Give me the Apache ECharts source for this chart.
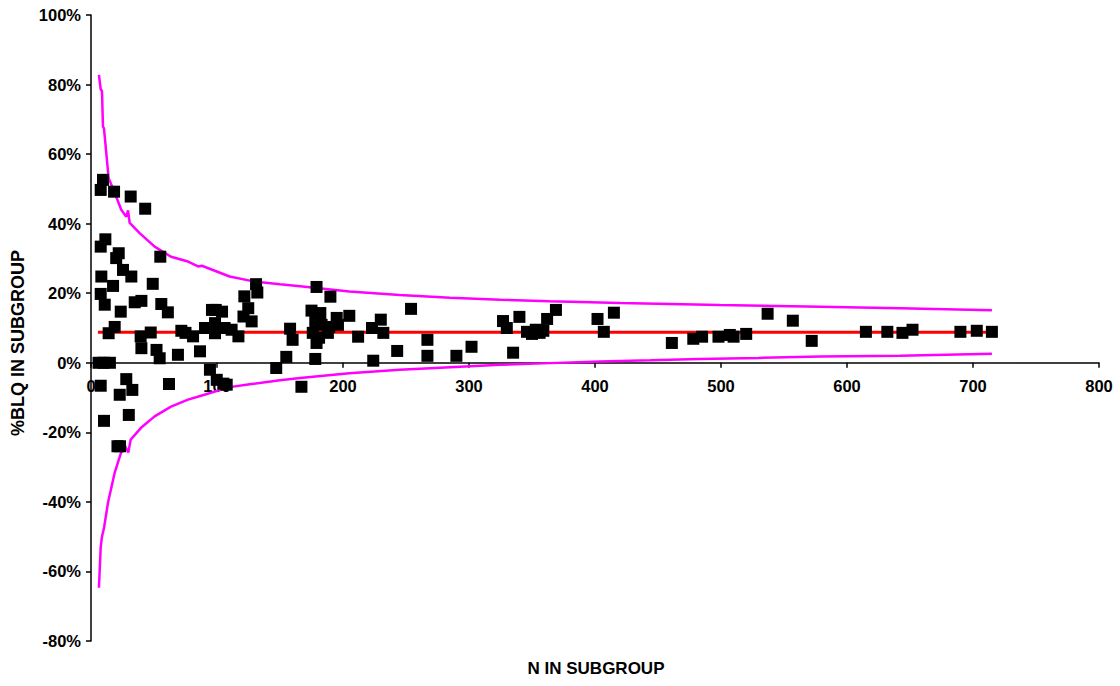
<!DOCTYPE html>
<html>
<head>
<meta charset="utf-8">
<script src="https://cdn.jsdelivr.net/npm/echarts@6/dist/echarts.min.js"></script>
<style>
html,body{margin:0;padding:0;background:#fff;}
#chart{width:1120px;height:686px;}
</style>
</head>
<body>
<div id="chart"></div>
<script>
// Subgroup sizes (N) and %BLQ for each subgroup
const subgroupN = [6,10,15,9.5,7.7,18.3,31.5,43,11.4,7.7,22,20,55,25.4,32,8.2,17.5,49,7.7,10.9,23.6,34.7,40,55.8,61,18.8,14,39.4,47.4,40,52,54.5,69,71.7,75,81,86.5,7.7,28,22.8,32.8,61.9,10.3,30,21,23,96,99,104,90.5,98.4,98.4,106,111.6,117,121.7,131,132,124.8,121,127.5,94.4,99.8,107.7,105,147,155,158,160,167,178,179,190,175,182,178,176,179,183,189,195,196,188,181,205,212,224,223,230,232,243,254,267,267,290,302,327,330,335,340,346,350,353,356,359,362,369,402,407,415,461,478,485,498,507,510,520,537,557,572,615,632,644,652,690,703,715];
const subgroupPct = [0,0,0,52.6,49.7,49.2,47.8,44.3,35.5,33.4,31.5,30.1,30.5,26.7,24.8,24.8,22.1,22.7,19.8,16.7,14.7,17.4,17.8,16.9,14.5,10.3,8.5,7.6,8.7,4.2,3.7,1.3,2.3,9.2,8.6,7.6,3.3,-6.6,-4.7,-9.2,-7.8,-6.1,-16.7,-15,-24,-24,15.2,15.2,14.7,10,11.4,8.5,10,9.5,7.6,19.1,22.6,20.2,15.7,13.3,11.9,-2,-4.9,-6.3,-6,-1.5,1.7,9.8,6.6,-6.9,1.1,21.8,19,15,14.3,11.8,8.6,5.7,10.9,10.3,12.9,10.9,8.6,7.2,13.5,7.5,0.6,10,12.4,8.6,3.4,15.5,6.6,2,2,4.6,12,10,2.9,13.2,8.9,8.3,9.5,8.6,9.2,12.6,15.2,12.6,8.9,14.4,5.7,6.9,7.5,7.5,8,7.5,8.3,14.1,12.1,6.3,8.9,8.9,8.6,9.5,8.9,9.2,8.9];

// Upper control limit
const upperN = [6.3,7.7,8.7,9.5,10.3,14,18.8,24,28,29.4,30.7,38.6,50.5,63.5,77,85,88,110,129,150,166,205,245,285,325,364,420,499,579,642,715];
const upperPct = [82.8,78.6,78.2,67.9,67.4,53.1,48.9,44,42,43.8,40.2,37.3,33.4,30.5,29.1,27.7,27.9,24.8,23.4,22.6,22,20.5,19.5,18.7,18.1,17.7,17.2,16.6,16.1,15.7,15.1];

// Lower control limit
const lowerN = [6.3,7.7,8.7,10.3,13.5,18.8,23.8,27,29.6,31.5,39.7,50.5,63.5,77,88,110,126,150,166,205,245,285,325,364,404,444,483,530,579,642,715];
const lowerPct = [-64.7,-53,-50,-47.5,-40.2,-31.6,-25.9,-23.9,-25.8,-22.1,-18.7,-15.4,-12.6,-10.6,-9.4,-7,-6.2,-5,-4.4,-3,-2,-1.3,-0.6,-0.1,0.4,0.7,1.1,1.4,1.8,2,2.6];

// Mean line
const meanN = [5.5, 715];
const meanPct = 8.8;

const yTicks = {min: -80, max: 100, step: 20};
const xTicks = {min: 0, max: 800, step: 100};

const zip = (a, b) => a.map((v, i) => [v, b[i]]);

const gridTop = 15, gridBottom = 45, chartH = 686;
const plotH = chartH - gridTop - gridBottom;
// shift x axis up so it sits on the 0% line
const zeroOffset = -(plotH * (0 - yTicks.min) / (yTicks.max - yTicks.min));

const chart = echarts.init(document.getElementById('chart'), null, {renderer: 'svg'});
const font = '"Liberation Sans", Arial, sans-serif';
chart.setOption({
  animation: false,
  backgroundColor: '#ffffff',
  grid: {left: 91, right: 21, top: gridTop, bottom: gridBottom},
  xAxis: {
    type: 'value', min: xTicks.min, max: xTicks.max, interval: xTicks.step,
    offset: zeroOffset,
    axisLine: {onZero: false, lineStyle: {color: '#000', width: 1.5}},
    axisTick: {show: true, length: 5, lineStyle: {color: '#000', width: 1.5}},
    axisLabel: {color: '#000', fontFamily: font, fontWeight: 'bold', fontSize: 16.5, margin: 15},
    splitLine: {show: false}
  },
  yAxis: {
    type: 'value', min: yTicks.min, max: yTicks.max, interval: yTicks.step,
    axisLine: {show: true, onZero: false, lineStyle: {color: '#000', width: 1.5}},
    axisTick: {show: true, length: 5, lineStyle: {color: '#000', width: 1.5}},
    axisLabel: {color: '#000', fontFamily: font, fontWeight: 'bold', fontSize: 16.5, margin: 10, formatter: '{value}%'},
    splitLine: {show: false}
  },
  graphic: [
    {type: 'text', x: 596, y: 668,
     style: {text: 'N IN SUBGROUP', font: 'bold 17px ' + font, fill: '#000', align: 'center', verticalAlign: 'middle'}},
    {type: 'text', x: 18, y: 343, rotation: Math.PI / 2,
     style: {text: '%BLQ IN SUBGROUP', font: 'bold 18px ' + font, fill: '#000', align: 'center', verticalAlign: 'middle'}}
  ],
  series: [
    {type: 'line', data: zip(meanN, meanN.map(() => meanPct)), symbol: 'none', lineStyle: {color: '#ff0000', width: 3}, z: 2},
    {type: 'line', data: zip(upperN, upperPct), symbol: 'none', lineStyle: {color: '#ff00ff', width: 2.5}, z: 2},
    {type: 'line', data: zip(lowerN, lowerPct), symbol: 'none', lineStyle: {color: '#ff00ff', width: 2.5}, z: 2},
    {type: 'scatter', data: zip(subgroupN, subgroupPct), symbol: 'rect', symbolSize: 12, itemStyle: {color: '#000', opacity: 1}, z: 3}
  ]
});
</script>
</body>
</html>
